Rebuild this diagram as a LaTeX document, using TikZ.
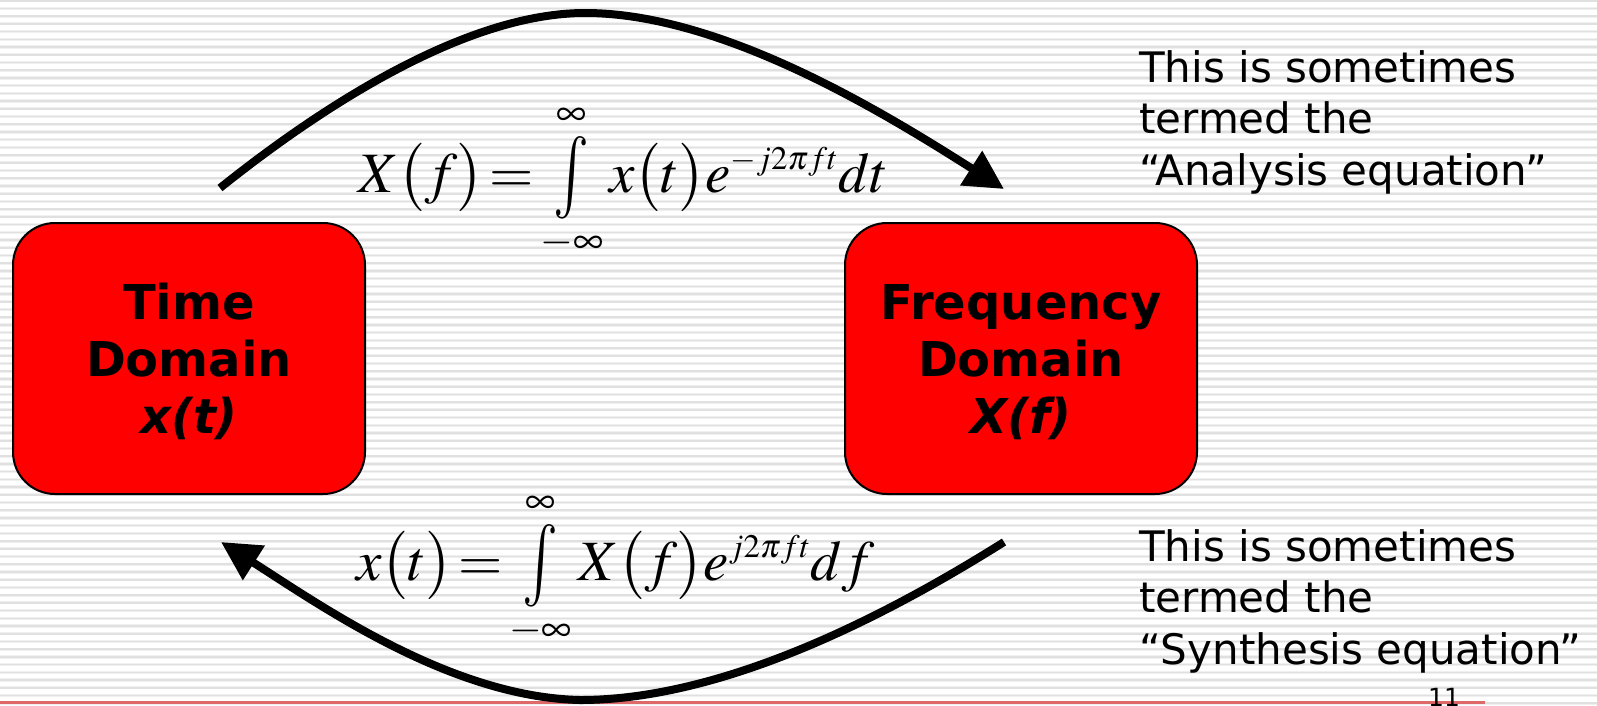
\documentclass[tikz,border=0pt]{standalone}
\usepackage{mathptmx}
\usepackage{graphicx}
\usepackage[no-math]{fontspec}
\setmainfont{DejaVu Sans}
\usetikzlibrary{arrows.meta}
\definecolor{stripecore}{RGB}{224,224,224}
\definecolor{stripeedge}{RGB}{240,240,240}
\definecolor{pagered}{RGB}{222,105,105}
\definecolor{boxred}{RGB}{255,0,0}
\newcommand{\tallint}{\mathop{\vcenter{\hbox{\scalebox{1.05}[1.45]{$\int$}}}}\limits}
\newcommand{\smallsup}[1]{\raisebox{2pt}{\scalebox{0.78}{$\scriptstyle #1$}}}
\tikzset{
  stripeedgeline/.style={draw=stripeedge, line width=3.2pt},
  stripecoreline/.style={draw=stripecore, line width=1.6pt},
  domainbox/.style={draw=black, line width=2pt, fill=boxred, rounded corners=42pt,
    minimum width=352pt, minimum height=271pt, inner sep=0pt},
  boxtext/.style={font=\fontsize{48}{57}\selectfont\bfseries, align=center, inner sep=0pt},
  note/.style={font=\fontsize{42}{51.5}\selectfont, align=left, inner sep=0pt},
  eqn/.style={font=\fontsize{57}{60}\selectfont, inner sep=0pt},
  bigarrow/.style={line width=8pt, -{Triangle[length=39pt,width=39pt]}},
}
\begin{document}
\begin{tikzpicture}[x=1pt,y=-1pt]
\useasboundingbox (0,0) rectangle (1597,705);
\fill[white] (0,0) rectangle (1597,705);
\foreach \i in {0,...,91} {
  \draw[stripeedgeline] (0,{0.7+7.72*\i}) -- (1597,{0.7+7.72*\i});
  \draw[stripecoreline] (0,{0.7+7.72*\i}) -- (1597,{0.7+7.72*\i});
}
\draw[pagered, line width=3pt] (0,702) -- (1485,702);

\node[domainbox] (tdbox) at (189,358.5) {};
\node[domainbox] (fdbox) at (1021,358.5) {};
\node[boxtext, anchor=base] (tdtext) at (189,433) {Time\\Domain\\\textit{x(t)}};
\node[boxtext, anchor=base] (fdtext) at (1021,433) {Frequency\\Domain\\\textit{X(f)}};

\coordinate (tstart) at (220,188);
\coordinate (tpeak) at (585,13);
\coordinate (ttip) at (1004,189);
\draw[bigarrow] (tstart) .. controls (330,100) and (470,13) .. (tpeak)
  .. controls (720,13) and (880,110) .. (ttip);

\coordinate (bstart) at (1004,542);
\coordinate (bbottom) at (580,700);
\coordinate (btip) at (221,542);
\draw[bigarrow] (bstart) .. controls (880,620) and (720,700) .. (bbottom)
  .. controls (450,697) and (320,605) .. (btip);

\node[eqn, anchor=base west] (analysis) at (358,192)
  {\thickmuskip=2mu\medmuskip=1mu$X\bigl(f\bigr)=\tallint_{-\infty}^{\infty}x\bigl(t\bigr)e^{\smallsup{-j2\pi ft}}dt$};
\node[eqn, anchor=base west] (synthesis) at (356,580)
  {\thickmuskip=2mu\medmuskip=1mu$x\bigl(t\bigr)=\tallint_{-\infty}^{\infty}X\bigl(f\bigr)e^{\smallsup{j2\pi ft}}df$};

\node[note, anchor=base west] (anatext) at (1139,185)
  {This is sometimes\\termed the\\“Analysis equation”};
\node[note, anchor=base west] (syntext) at (1139,664)
  {This is sometimes\\termed the\\“Synthesis equation”};
\node[font=\fontsize{25}{30}\selectfont, anchor=base, inner sep=0pt] (pagenum) at (1444,706) {11};
\end{tikzpicture}
\end{document}
